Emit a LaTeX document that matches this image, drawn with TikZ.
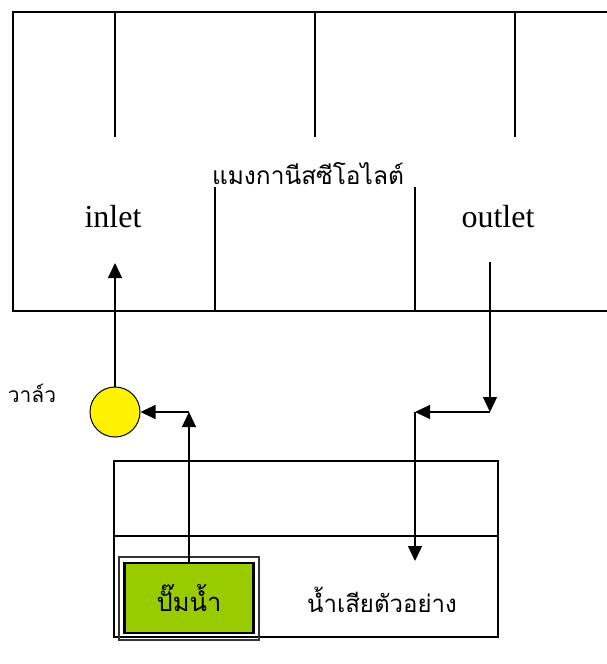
\documentclass[tikz,border=0pt]{standalone}
\usepackage{fontspec}
\setmainfont{Liberation Serif}
\newfontfamily\thaifont[Script=Thai]{Loma}
\usetikzlibrary{arrows.meta, positioning}
\definecolor{pumpgreen}{HTML}{99CC00}

\begin{document}
\begin{tikzpicture}[x=1pt, y=-1pt,
    wall/.style  = {draw, line width=1.3pt},
    flow/.style  = {draw, line width=1.3pt, -{Triangle[length=15pt, width=14pt]}},
    thai/.style  = {font=\thaifont\fontsize{24}{28}\selectfont, inner sep=0pt},
    port/.style  = {font=\fontsize{32}{36}\selectfont, inner sep=0pt},
    valve/.style = {circle, draw, line width=1pt, fill=yellow, minimum size=50pt, inner sep=0pt},
  ]
  \useasboundingbox (0,0) rectangle (606,664);

  % zeolite tank
  \draw[wall] (620,12) -- (13,12) -- (13,311) -- (620,311);
  \foreach \x in {115,315,515} \draw[wall] (\x,12) -- (\x,137);
  \foreach \x in {215,415} \draw[wall] (\x,187) -- (\x,311);
  \node[thai, font=\thaifont\fontsize{24.5}{28}\selectfont] (media) at (308,174) {แมงกานีสซีโอไลต์};
  \node[port] (inlet) at (113,217) {inlet};
  \node[port] (outlet) at (498,217) {outlet};

  % valve
  \node[valve] (valve) at (115,412) {};
  \node[thai, font=\thaifont\fontsize{21}{24}\selectfont] (valvename) at (32,393) {วาล์ว};

  % sample tank
  \node[draw, line width=1.3pt, minimum width=384pt, minimum height=176pt] (sample) at (306,549) {};
  \draw[wall] (sample.west |- 0,536) -- (sample.east |- 0,536);
  \node[thai] (sampletext) at (382,600) {น้ำเสียตัวอย่าง};

  % pump
  \node[draw=black!80, line width=1.4pt, minimum width=140pt, minimum height=83pt] (pumpframe) at (189,598.5) {};
  \node[thai, font=\thaifont\fontsize{25.5}{28}\selectfont, draw, line width=2.2pt, fill=pumpgreen,
        minimum width=129pt, minimum height=70pt] (pump) at (189,598) {ปั๊มน้ำ};

  % pipes
  \coordinate (pumpcorner) at (189,412);
  \coordinate (inletport) at (115,263);
  \coordinate (outletport) at (490,262);
  \coordinate (outcorner) at (490,412);
  \coordinate (dropcorner) at (415,412);
  \coordinate (dropend) at (415,561);

  \draw[flow] (pump.north) -- (pumpcorner);
  \draw[flow] (pumpcorner) -- (valve.east);
  \draw[flow] (valve.north) -- (inletport);
  \draw[flow] (outletport) -- (outcorner);
  \draw[flow] (outcorner) -- (dropcorner);
  \draw[flow] (dropcorner) -- (dropend);
\end{tikzpicture}
\end{document}
